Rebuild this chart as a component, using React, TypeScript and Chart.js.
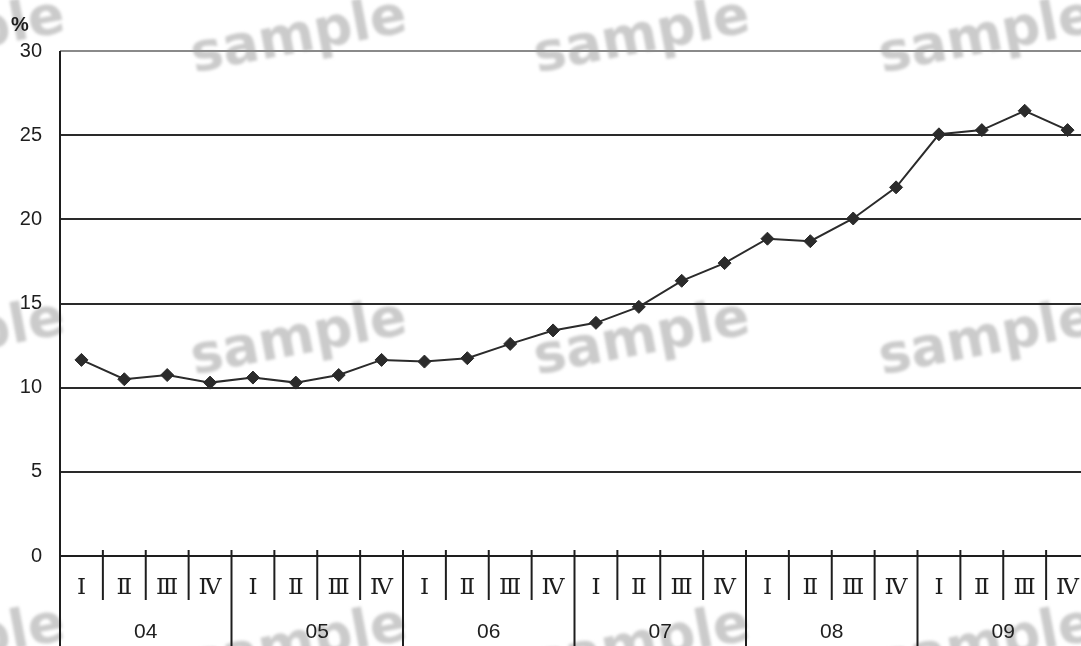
import React, { useEffect, useRef } from "react";
import { Chart, registerables } from "chart.js";

Chart.register(...registerables);

// Fiscal years and quarters on the category axis
const years = ["04", "05", "06", "07", "08", "09"];
const quarters = ["Ⅰ", "Ⅱ", "Ⅲ", "Ⅳ"];
const categories = years.flatMap((y) => quarters.map((q) => `${y}-${q}`));

// Share (%) per quarter
const shareValues = [
  11.65, 10.5, 10.75, 10.3, 10.6, 10.3, 10.75, 11.65, 11.55, 11.75, 12.6, 13.4,
  13.85, 14.8, 16.35, 17.4, 18.85, 18.7, 20.05, 21.9, 25.05, 25.3, 26.45, 25.3,
];

// Value axis
const yMin = 0;
const yMax = 30;
const yStep = 5;
const yUnit = "%";

// Watermark tile
const watermarkText = "sample";

const CANVAS_W = 1100;
const CANVAS_H = 646;
const PLOT_RIGHT = 1089;

const axisPlugin = {
  id: "quarterYearAxis",
  beforeDraw(chart: any) {
    const { ctx } = chart;
    ctx.save();
    ctx.fillStyle = "#ffffff";
    ctx.fillRect(0, 0, chart.width, chart.height);
    // tiled watermark
    ctx.fillStyle = "#cbcbcb";
    ctx.font = 'bold 54px "DejaVu Sans"';
    ctx.textAlign = "center";
    ctx.textBaseline = "middle";
    ctx.filter = "blur(1.5px)";
    const cols = [-43, 299, 642, 987];
    const rows = [38, 340, 646];
    for (const cy of rows) {
      for (const cx of cols) {
        ctx.save();
        ctx.translate(cx, cy);
        ctx.rotate(-0.19);
        ctx.fillText(watermarkText, 0, 0);
        ctx.restore();
      }
    }
    ctx.filter = "none";
    ctx.restore();
  },
  afterDraw(chart: any) {
    const { ctx, chartArea, scales } = chart;
    const x = scales.x;
    const left = chartArea.left;
    const bottom = chartArea.bottom;
    ctx.save();
    ctx.strokeStyle = "#1e1e1e";
    ctx.lineWidth = 2;
    // left axis line, running down through the category band
    ctx.beginPath();
    ctx.moveTo(left, chartArea.top);
    ctx.lineTo(left, chart.height);
    ctx.stroke();
    // baseline
    ctx.beginPath();
    ctx.moveTo(left, bottom);
    ctx.lineTo(chartArea.right, bottom);
    ctx.stroke();

    const half = (x.getPixelForValue(1) - x.getPixelForValue(0)) / 2;
    // separators between quarters / years
    for (let i = 1; i <= categories.length; i++) {
      const px = x.getPixelForValue(i) - half;
      const isYear = i % quarters.length === 0;
      ctx.beginPath();
      ctx.moveTo(px, bottom - 6);
      ctx.lineTo(px, isYear ? chart.height : bottom + 44);
      ctx.stroke();
    }
    // quarter labels
    ctx.fillStyle = "#1e1e1e";
    ctx.textAlign = "center";
    ctx.textBaseline = "middle";
    ctx.font = '23px "DejaVu Serif"';
    categories.forEach((c, i) => {
      const q = c.split("-")[1];
      ctx.fillText(q, x.getPixelForValue(i), bottom + 32);
    });
    // year labels
    ctx.font = '21px "Liberation Sans"';
    years.forEach((y, j) => {
      const a = x.getPixelForValue(j * 4) - half;
      const b = x.getPixelForValue(j * 4 + 3) + half;
      ctx.fillText(y, (a + b) / 2, bottom + 76);
    });
    // unit
    ctx.font = 'bold 20px "Liberation Sans"';
    ctx.fillText(yUnit, 20, 25);
    ctx.restore();
  },
};

export default function App() {
  const canvasRef = useRef<HTMLCanvasElement | null>(null);

  useEffect(() => {
    const canvas = canvasRef.current;
    if (!canvas) return;
    const chart = new Chart(canvas, {
      type: "line",
      data: {
        labels: categories,
        datasets: [
          {
            data: shareValues,
            borderColor: "#2b2b2b",
            borderWidth: 2,
            backgroundColor: "#2b2b2b",
            pointStyle: "rectRot",
            pointRadius: 6.5,
            pointBorderWidth: 1,
            pointBorderColor: "#2b2b2b",
            pointBackgroundColor: "#2b2b2b",
            tension: 0,
          },
        ],
      },
      options: {
        responsive: false,
        animation: false,
        devicePixelRatio: 1,
        layout: {
          padding: { top: 51, right: CANVAS_W - PLOT_RIGHT, bottom: 90, left: 0 },
        },
        plugins: {
          legend: { display: false },
          tooltip: { enabled: false },
        },
        scales: {
          x: {
            type: "category",
            offset: true,
            display: false,
          },
          y: {
            min: yMin,
            max: yMax,
            afterFit(scale: any) {
              scale.width = 60;
            },
            ticks: {
              stepSize: yStep,
              color: "#1e1e1e",
              padding: 18,
              font: { family: "Liberation Sans", size: 20 },
            },
            border: { display: false },
            grid: {
              drawTicks: false,
              lineWidth: 2,
              color: (c: any) => (c.tick && c.tick.value === yMax ? "#8a8a8a" : "#2a2a2a"),
            },
          },
        },
      },
      plugins: [axisPlugin],
    });
    return () => chart.destroy();
  }, []);

  return (
    <div
      style={{
        position: "fixed",
        left: 0,
        top: 0,
        width: 1081,
        height: 646,
        overflow: "hidden",
        background: "#fff",
      }}
    >
      <canvas
        ref={canvasRef}
        width={CANVAS_W}
        height={CANVAS_H}
        style={{ display: "block", width: CANVAS_W, height: CANVAS_H }}
      />
    </div>
  );
}
